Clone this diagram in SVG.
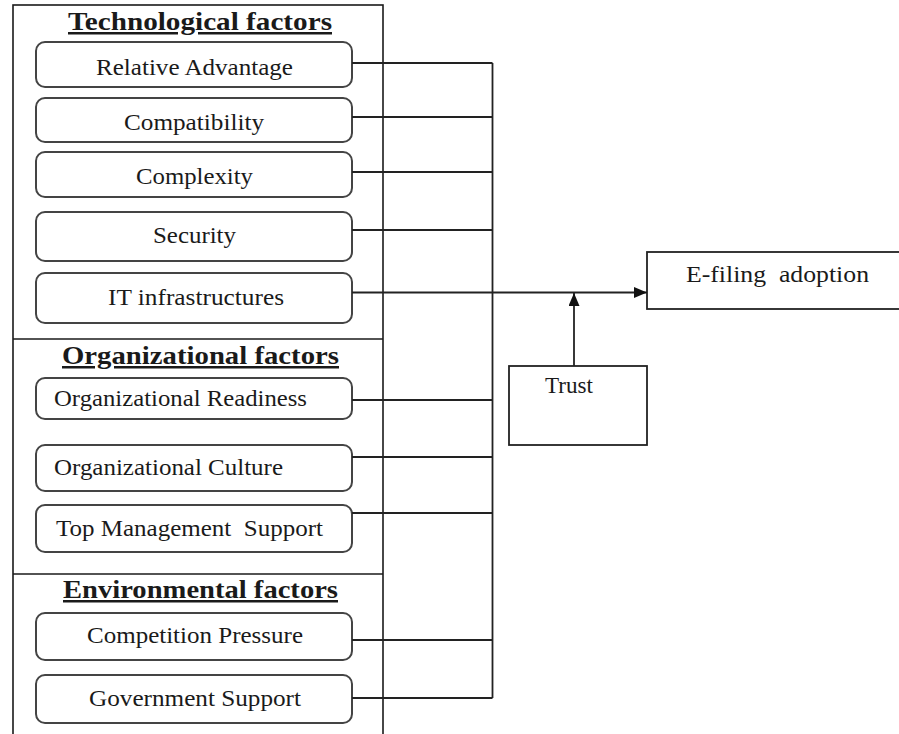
<svg xmlns="http://www.w3.org/2000/svg" width="899" height="734" viewBox="0 0 899 734">
  <style>
    .frame { fill: none; stroke: #1a1a1a; stroke-width: 1.6; }
    .factor { fill: #ffffff; stroke: #444444; stroke-width: 2; }
    .box { fill: #ffffff; stroke: #222222; stroke-width: 1.8; }
    .link { fill: none; stroke: #222222; stroke-width: 1.8; }
    text { font-family: "Liberation Serif", "Times New Roman", serif; fill: #1a1a1a; }
    .label { font-size: 24px; }
    .head { font-size: 25px; font-weight: bold; text-decoration: underline; }
  </style>
  <defs>
    <marker id="arrow" viewBox="0 0 13 11" refX="13" refY="5.5" markerWidth="13" markerHeight="11" markerUnits="userSpaceOnUse" orient="auto">
      <path d="M0,0 L13,5.5 L0,11 Z" fill="#111111"/>
    </marker>
  </defs>
  <rect width="899" height="734" fill="#ffffff"/>

  <!-- outer frame with the three factor sections -->
  <g id="factor-panel">
    <rect class="frame" x="13" y="5" width="370" height="740"/>
    <line class="frame" x1="13" y1="339" x2="383" y2="339"/>
    <line class="frame" x1="13" y1="574" x2="383" y2="574"/>
    <text class="head" x="68" y="30" textLength="264" lengthAdjust="spacingAndGlyphs">Technological factors</text>
    <text class="head" x="62" y="364" textLength="277" lengthAdjust="spacingAndGlyphs">Organizational factors</text>
    <text class="head" x="63" y="598" textLength="275" lengthAdjust="spacingAndGlyphs">Environmental factors</text>
  </g>

  <g id="relative-advantage">
    <rect class="factor" x="36" y="42" width="316" height="45" rx="9"/>
    <text class="label" x="96" y="75" textLength="197" lengthAdjust="spacingAndGlyphs">Relative Advantage</text>
  </g>
  <g id="compatibility">
    <rect class="factor" x="36" y="98" width="316" height="44" rx="9"/>
    <text class="label" x="124" y="130" textLength="140" lengthAdjust="spacingAndGlyphs">Compatibility</text>
  </g>
  <g id="complexity">
    <rect class="factor" x="36" y="152" width="316" height="45" rx="9"/>
    <text class="label" x="136" y="184" textLength="117" lengthAdjust="spacingAndGlyphs">Complexity</text>
  </g>
  <g id="security">
    <rect class="factor" x="36" y="212" width="316" height="49" rx="9"/>
    <text class="label" x="153" y="243" textLength="83" lengthAdjust="spacingAndGlyphs">Security</text>
  </g>
  <g id="it-infrastructures">
    <rect class="factor" x="36" y="273" width="316" height="50" rx="9"/>
    <text class="label" x="108" y="305" textLength="176" lengthAdjust="spacingAndGlyphs">IT infrastructures</text>
  </g>

  <g id="organizational-readiness">
    <rect class="factor" x="36" y="378" width="316" height="41" rx="9"/>
    <text class="label" x="54" y="406" textLength="253" lengthAdjust="spacingAndGlyphs">Organizational Readiness</text>
  </g>
  <g id="organizational-culture">
    <rect class="factor" x="36" y="445" width="316" height="46" rx="9"/>
    <text class="label" x="54" y="475" textLength="229" lengthAdjust="spacingAndGlyphs">Organizational Culture</text>
  </g>
  <g id="top-management-support">
    <rect class="factor" x="36" y="505" width="316" height="47" rx="9"/>
    <text class="label" x="56" y="536" textLength="267" lengthAdjust="spacingAndGlyphs" xml:space="preserve">Top Management  Support</text>
  </g>

  <g id="competition-pressure">
    <rect class="factor" x="36" y="613" width="316" height="47" rx="9"/>
    <text class="label" x="87" y="643" textLength="216" lengthAdjust="spacingAndGlyphs">Competition Pressure</text>
  </g>
  <g id="government-support">
    <rect class="factor" x="36" y="675" width="316" height="48" rx="9"/>
    <text class="label" x="89" y="706" textLength="212" lengthAdjust="spacingAndGlyphs">Government Support</text>
  </g>

  <g id="e-filing-adoption">
    <rect class="box" x="647" y="252" width="260" height="57"/>
    <text class="label" x="686" y="282" textLength="183" lengthAdjust="spacingAndGlyphs" xml:space="preserve">E-filing  adoption</text>
  </g>
  <g id="trust">
    <rect class="box" x="509" y="366" width="138" height="79"/>
    <text class="label" x="545" y="393" textLength="48" lengthAdjust="spacingAndGlyphs">Trust</text>
  </g>

  <!-- connectors: each factor feeds a common bus, which joins the main path -->
  <g id="connectors">
    <line class="link" x1="492.5" y1="63" x2="492.5" y2="698"/>
    <line class="link" x1="352" y1="63" x2="492.5" y2="63"/>
    <line class="link" x1="352" y1="117" x2="492.5" y2="117"/>
    <line class="link" x1="352" y1="172" x2="492.5" y2="172"/>
    <line class="link" x1="352" y1="230" x2="492.5" y2="230"/>
    <line class="link" x1="352" y1="400" x2="492.5" y2="400"/>
    <line class="link" x1="352" y1="457" x2="492.5" y2="457"/>
    <line class="link" x1="352" y1="513" x2="492.5" y2="513"/>
    <line class="link" x1="352" y1="640" x2="492.5" y2="640"/>
    <line class="link" x1="352" y1="698" x2="492.5" y2="698"/>
    <line class="link" x1="352" y1="292.5" x2="647" y2="292.5" marker-end="url(#arrow)"/>
    <line class="link" x1="574" y1="366" x2="574" y2="293" marker-end="url(#arrow)"/>
  </g>
</svg>
